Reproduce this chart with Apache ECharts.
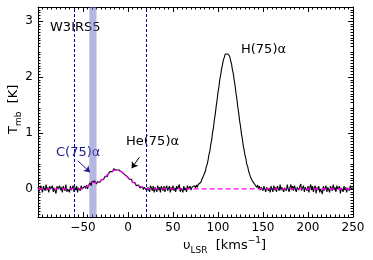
<!DOCTYPE html>
<html><head><meta charset="utf-8">
<script src="https://cdn.jsdelivr.net/npm/echarts@6/dist/echarts.min.js"></script>
<style>html,body{margin:0;padding:0;background:#fff}#c{width:373px;height:260px}</style>
</head><body><div id="c"></div>
<script>
const velocity = [
-100,-99,-98,-97,-96,-95,-94,-93,-92,-91,
-90,-89,-88,-87,-86,-85,-84,-83,-82,-81,
-80,-79,-78,-77,-76,-75,-74,-73,-72,-71,
-70,-69,-68,-67,-66,-65,-64,-63,-62,-61,
-60,-59,-58,-57,-56,-55,-54,-53,-52,-51,
-50,-49,-48,-47,-46,-45,-44,-43,-42,-41,
-40,-39,-38,-37,-36,-35,-34,-33,-32,-31,
-30,-29,-28,-27,-26,-25,-24,-23,-22,-21,
-20,-19,-18,-17,-16,-15,-14,-13,-12,-11,
-10,-9,-8,-7,-6,-5,-4,-3,-2,-1,
0,1,2,3,4,5,6,7,8,9,
10,11,12,13,14,15,16,17,18,19,
20,21,22,23,24,25,26,27,28,29,
30,31,32,33,34,35,36,37,38,39,
40,41,42,43,44,45,46,47,48,49,
50,51,52,53,54,55,56,57,58,59,
60,61,62,63,64,65,66,67,68,69,
70,71,72,73,74,75,76,77,78,79,
80,81,82,83,84,85,86,87,88,89,
90,91,92,93,94,95,96,97,98,99,
100,101,102,103,104,105,106,107,108,109,
110,111,112,113,114,115,116,117,118,119,
120,121,122,123,124,125,126,127,128,129,
130,131,132,133,134,135,136,137,138,139,
140,141,142,143,144,145,146,147,148,149,
150,151,152,153,154,155,156,157,158,159,
160,161,162,163,164,165,166,167,168,169,
170,171,172,173,174,175,176,177,178,179,
180,181,182,183,184,185,186,187,188,189,
190,191,192,193,194,195,196,197,198,199,
200,201,202,203,204,205,206,207,208,209,
210,211,212,213,214,215,216,217,218,219,
220,221,222,223,224,225,226,227,228,229,
230,231,232,233,234,235,236,237,238,239,
240,241,242,243,244,245,246,247,248,249,
250];
const tmb = [
0.03,-0.05,-0.02,0.06,0.00,-0.06,0.05,0.02,-0.03,0.08,
-0.02,0.03,-0.06,0.05,0.00,-0.03,0.06,-0.05,0.02,0.03,
-0.08,0.05,0.00,-0.03,0.06,-0.02,0.03,-0.06,0.05,0.02,
-0.03,0.08,-0.05,0.00,0.03,-0.06,0.05,-0.02,0.02,0.06,
-0.05,0.03,-0.02,0.05,-0.06,0.02,0.05,-0.03,0.06,0.00,
0.03,-0.03,0.05,0.01,0.07,0.00,0.06,0.08,0.11,0.06,
0.13,0.16,0.11,0.14,0.12,0.09,0.13,0.11,0.15,0.12,
0.16,0.13,0.19,0.17,0.22,0.19,0.23,0.22,0.27,0.25,
0.31,0.29,0.33,0.31,0.36,0.33,0.37,0.34,0.36,0.33,
0.34,0.31,0.33,0.30,0.29,0.31,0.26,0.28,0.25,0.22,
0.23,0.18,0.19,0.15,0.17,0.12,0.14,0.09,0.11,0.06,
0.08,0.04,0.07,0.02,0.05,0.01,0.04,-0.01,0.03,0.00,
0.05,-0.03,0.03,0.00,-0.05,0.06,0.02,-0.03,0.05,-0.06,
0.03,0.00,-0.05,0.06,-0.02,0.03,-0.06,0.05,0.02,-0.03,
0.05,-0.05,0.02,0.06,-0.03,0.00,0.05,-0.06,0.03,-0.02,
0.06,-0.03,0.02,-0.05,0.05,0.00,-0.03,0.08,-0.05,0.02,
0.03,-0.06,0.05,-0.02,0.02,-0.05,0.06,0.00,-0.03,0.05,
-0.02,0.03,0.05,0.00,0.06,0.02,0.07,0.03,0.08,0.09,
0.10,0.12,0.17,0.17,0.24,0.27,0.32,0.40,0.44,0.52,
0.62,0.68,0.80,0.88,1.01,1.10,1.24,1.34,1.48,1.59,
1.73,1.82,1.96,2.04,2.15,2.22,2.31,2.35,2.41,2.41,
2.44,2.41,2.39,2.37,2.29,2.24,2.13,2.06,1.94,1.84,
1.71,1.61,1.46,1.36,1.22,1.12,0.99,0.90,0.78,0.70,
0.60,0.54,0.44,0.40,0.32,0.29,0.22,0.20,0.15,0.14,
0.12,0.08,0.10,0.03,0.07,0.00,0.05,-0.02,0.03,0.04,
-0.03,0.05,0.00,-0.05,0.03,0.06,-0.03,0.02,-0.06,0.05,
0.00,-0.05,0.06,-0.02,0.03,-0.05,0.05,0.02,-0.03,0.08,
-0.02,0.03,0.06,-0.05,0.02,0.05,-0.03,0.08,0.00,-0.05,
0.03,0.08,-0.02,0.05,-0.03,0.06,0.00,-0.05,0.03,0.06,
-0.02,0.05,0.09,-0.03,0.02,0.06,-0.05,0.03,0.00,-0.03,
0.05,-0.06,0.03,0.08,-0.02,0.05,-0.05,0.02,0.06,-0.08,
0.03,-0.02,0.05,-0.06,0.00,0.03,-0.09,0.05,-0.03,0.02,
0.06,-0.05,0.03,0.00,-0.06,0.05,0.02,-0.03,0.08,-0.02,
0.03,-0.05,0.06,0.00,-0.03,0.05,-0.08,0.02,0.03,-0.05,
0.05,-0.02,0.03,-0.06,0.02,0.05,-0.03,0.06,0.00,-0.03,
0.02];
const fitVelocity = [-100,-52,-50,-48,-46,-44,-42,-40,-38,-36,-34,-32,-30,-28,-26,-24,-22,-20,-18,-16,-14,-12,-10,-8,-6,-4,-2,0,2,4,6,8,10,12,14,16,18,20,22,24,26,28,30,250];
const fitTmb = [0,0.003,0.005,0.015,0.031,0.061,0.096,0.119,0.121,0.113,0.110,0.123,0.145,0.175,0.206,0.238,0.267,0.293,0.315,0.331,0.339,0.339,0.331,0.315,0.293,0.267,0.238,0.206,0.175,0.145,0.117,0.092,0.071,0.053,0.039,0.028,0.019,0.013,0.009,0.005,0.003,0.002,0.001,0];
const windowEdges = [-60, 20];
const carbonBand = [-43, -35];
const xTicks = [-50,0,50,100,150,200,250];
const yTicks = [0,1,2,3];
const cArrow = [[-55.9,0.505],[-42.2,0.30]];
const heArrow = [[12.6,0.566],[4.1,0.37]];

const FONT = 'DejaVu Sans';
const spectrum = velocity.map((v,i)=>[v,tmb[i]]);
const fit = fitVelocity.map((v,i)=>[v,fitTmb[i]]);
const minus = v => v < 0 ? '\u2212' + Math.abs(v) : String(v);

function xAx(pos, labels){
  return {type:'value', position:pos, min:-100, max:250, interval:50,
    axisLine:{onZero:false, lineStyle:{color:'#000', width:1}},
    axisTick:{inside:true, length:5, lineStyle:{color:'#000'}},
    minorTick:{show:true, splitNumber:10, length:2.5, lineStyle:{color:'#000'}},
    splitLine:{show:false},
    axisLabel:{show:labels, color:'#000', fontFamily:FONT, fontSize:12, margin:5,
      formatter:v => xTicks.includes(v) ? minus(v) : ''}};
}
function yAx(pos, labels){
  return {type:'value', position:pos, min:-0.5, max:3.25, interval:0.5,
    axisLine:{onZero:false, lineStyle:{color:'#000', width:1}},
    axisTick:{inside:true, length:5, customValues:yTicks, lineStyle:{color:'#000'}},
    minorTick:{show:true, splitNumber:10, length:2.5, lineStyle:{color:'#000'}},
    splitLine:{show:false},
    axisLabel:{show:labels, color:'#000', fontFamily:FONT, fontSize:12, margin:5,
      formatter:v => yTicks.includes(v) ? String(v) : ''}};
}

const chart = echarts.init(document.getElementById('c'), null, {renderer:'canvas'});
chart.setOption({
  animation:false,
  grid:{left:38, top:7, right:20, bottom:43},
  xAxis:[xAx('bottom', true), xAx('top', false)],
  yAxis:[yAx('left', true), yAx('right', false)],
  series:[
    {type:'line', data:spectrum, xAxisIndex:0, yAxisIndex:0, showSymbol:false, symbol:'none',
     lineStyle:{color:'#000', width:1.1}, z:3,
     markArea:{silent:true, itemStyle:{color:'rgba(110,110,200,0.5)'},
       data:[[{xAxis:carbonBand[0]},{xAxis:carbonBand[1]}]]},
     markLine:{silent:true, symbol:['none','none'], label:{show:false},
       lineStyle:{color:'#0000aa', type:[3,2], width:1},
       data:windowEdges.map(v=>({xAxis:v}))}},
    {type:'line', data:fit, xAxisIndex:0, yAxisIndex:0, showSymbol:false, symbol:'none',
     lineStyle:{color:'#ff00ff', width:1.3, type:[5,3]}, z:4},
    {type:'line', data:[], z:5,
     markLine:{silent:true, symbol:['none','arrow'], symbolSize:6, label:{show:false},
       data:[
        [{coord:cArrow[0], lineStyle:{color:'#1a1a8c', width:1, type:'solid'}},{coord:cArrow[1]}],
        [{coord:heArrow[0], lineStyle:{color:'#000', width:1, type:'solid'}},{coord:heArrow[1]}]
       ]}}
  ],
  graphic:[
    {type:'text', left:50, top:21, style:{text:'W3IRS5', font:'13px "DejaVu Sans"', fill:'#000'}},
    {type:'text', left:241, top:43, style:{text:'H(75)\u03b1', font:'13px "DejaVu Sans"', fill:'#000'}},
    {type:'text', left:126, top:135, style:{text:'He(75)\u03b1', font:'13px "DejaVu Sans"', fill:'#000'}},
    {type:'text', left:56, top:146, style:{text:'C(75)\u03b1', font:'13px "DejaVu Sans"', fill:'#1a1a8c'}},
    {type:'text', x:183, y:236, style:{
      text:'{m|\u03c5}{s|LSR}{m|  [kms}{p|\u22121}{m|]}', fill:'#000',
      rich:{m:{fontFamily:FONT, fontSize:13, lineHeight:16, verticalAlign:'bottom'},
            s:{fontFamily:FONT, fontSize:9, lineHeight:16, verticalAlign:'bottom', padding:[0,0,-3,0]},
            p:{fontFamily:FONT, fontSize:9, lineHeight:16, verticalAlign:'top'}}}},
    {type:'text', x:4, y:134, rotation:Math.PI/2, style:{
      text:'{m|T}{s|mb}{m|  [K]}', fill:'#000',
      rich:{m:{fontFamily:FONT, fontSize:13, lineHeight:16, verticalAlign:'bottom'},
            s:{fontFamily:FONT, fontSize:9, lineHeight:16, verticalAlign:'bottom', padding:[0,0,-3,0]}}}}
  ]
});
</script></body></html>
